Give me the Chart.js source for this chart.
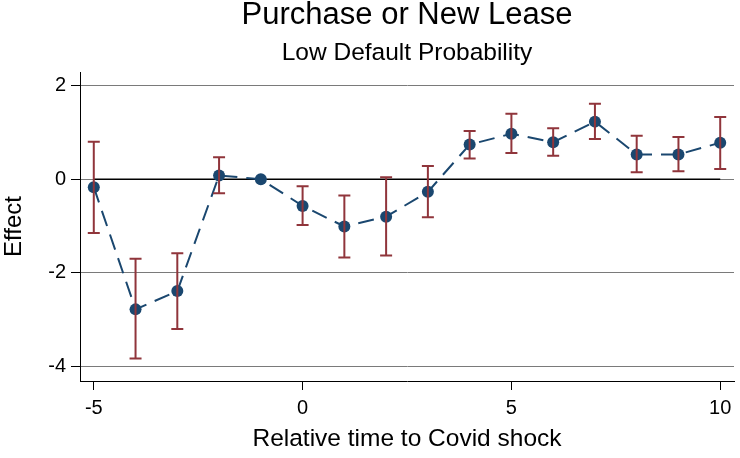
<!DOCTYPE html>
<html>
<head>
<meta charset="utf-8">
<script src="https://cdn.jsdelivr.net/npm/chart.js@4.4.1/dist/chart.umd.min.js"></script>
<style>
  html, body { margin: 0; padding: 0; background: #fff; }
  canvas { display: block; }
</style>
</head>
<body>
<canvas id="c" width="740" height="458"></canvas>
<script>
// ---- Data ----
const relTime  = [-5, -4, -3, -2, -1, 0, 1, 2, 3, 4, 5, 6, 7, 8, 9, 10];
const effect   = [-0.17, -2.78, -2.39, 0.08, 0.00, -0.57, -1.01, -0.80, -0.27, 0.74, 0.97, 0.79, 1.23, 0.53, 0.53, 0.78];
const ciLow    = [-1.15, -3.83, -3.20, -0.30, null, -0.98, -1.67, -1.63, -0.81, 0.44, 0.56, 0.50, 0.86, 0.15, 0.17, 0.22];
const ciHigh   = [0.80, -1.70, -1.58, 0.47, null, -0.15, -0.35, 0.04, 0.28, 1.03, 1.40, 1.09, 1.61, 0.93, 0.90, 1.33];
const xTicks   = [-5, 0, 5, 10];
const yTicks   = [-4, -2, 0, 2];
const refLineX = [-5, 10];
const refLineY = [0, 0];

const titleText    = 'Purchase or New Lease';
const subtitleText = 'Low Default Probability';
const xTitle       = 'Relative time to Covid shock';
const yTitle       = 'Effect';

// ---- Styling ----
const NAVY = '#1a476f';
const MAROON = '#90353b';
const FONT = "'Liberation Sans', Arial, Helvetica, sans-serif";

const pointData = relTime.map((x, i) => ({ x: x, y: effect[i] }));
const refData = refLineX.map((x, i) => ({ x: x, y: refLineY[i] }));

const errorBarPlugin = {
  id: 'errorBars',
  afterDatasetsDraw(c) {
    const ctx = c.ctx;
    const xs = c.scales.x, ys = c.scales.y;
    ctx.save();
    ctx.strokeStyle = MAROON;
    ctx.lineWidth = 2;
    const half = 6;
    relTime.forEach((x, i) => {
      if (ciLow[i] == null || ciHigh[i] == null) return;
      const px = xs.getPixelForValue(x);
      const pLo = ys.getPixelForValue(ciLow[i]);
      const pHi = ys.getPixelForValue(ciHigh[i]);
      ctx.beginPath();
      ctx.moveTo(px, pLo); ctx.lineTo(px, pHi);
      ctx.moveTo(px - half, pLo); ctx.lineTo(px + half, pLo);
      ctx.moveTo(px - half, pHi); ctx.lineTo(px + half, pHi);
      ctx.stroke();
    });
    ctx.restore();
  }
};

new Chart(document.getElementById('c'), {
  type: 'line',
  data: {
    datasets: [
      {
        label: 'Effect',
        data: pointData,
        borderColor: NAVY,
        backgroundColor: NAVY,
        borderWidth: 2,
        borderDash: [16, 9],
        pointRadius: 6,
        pointBackgroundColor: NAVY,
        pointBorderColor: NAVY,
        pointBorderWidth: 0,
        tension: 0,
        order: 1
      },
      {
        label: 'zero',
        data: refData,
        borderColor: '#000',
        borderWidth: 1.6,
        pointRadius: 0,
        tension: 0,
        order: 2
      }
    ]
  },
  options: {
    responsive: false,
    animation: false,
    devicePixelRatio: 1,
    layout: { padding: { top: 0, right: 4, bottom: 0, left: 0 } },
    plugins: {
      legend: { display: false },
      tooltip: { enabled: false },
      title: {
        display: true,
        fullSize: false,
        text: titleText,
        color: '#000',
        font: { family: FONT, size: 31, weight: 'normal', lineHeight: 0.9 },
        padding: { top: 2, bottom: 0 }
      },
      subtitle: {
        display: true,
        fullSize: false,
        text: subtitleText,
        color: '#000',
        font: { family: FONT, size: 24.5, weight: 'normal', lineHeight: 1 },
        padding: { top: 11.1, bottom: 6.5 }
      }
    },
    scales: {
      x: {
        type: 'linear',
        min: -5.33,
        max: 10.33,
        afterBuildTicks(s) { s.ticks = xTicks.map(v => ({ value: v })); },
        afterFit(s) { s.height = 77; },
        ticks: {
          color: '#000',
          font: { family: FONT, size: 20 },
          padding: 6.5,
          maxRotation: 0,
          callback: v => String(v)
        },
        grid: {
          drawOnChartArea: false,
          drawTicks: true,
          tickLength: 9,
          tickColor: '#000',
          tickWidth: 1
        },
        border: { display: true, color: '#000', width: 1 },
        title: {
          display: true,
          text: xTitle,
          color: '#000',
          font: { family: FONT, size: 24.5, lineHeight: 1.2 },
          padding: { top: 0, bottom: 4.3 }
        }
      },
      y: {
        type: 'linear',
        min: -4.31,
        max: 2.29,
        afterBuildTicks(s) { s.ticks = yTicks.map(v => ({ value: v })); },
        afterFit(s) { s.width = 80; },
        ticks: {
          color: '#000',
          font: { family: FONT, size: 20 },
          padding: 5,
          callback: v => String(v)
        },
        grid: {
          color: '#7a7a7a',
          lineWidth: 1,
          drawTicks: true,
          tickLength: 9,
          tickColor: '#000',
          tickWidth: 1
        },
        border: { display: true, color: '#000', width: 1 },
        title: {
          display: true,
          text: yTitle,
          color: '#000',
          font: { family: FONT, size: 24, lineHeight: 1.2 },
          padding: { top: 0, bottom: 0 }
        }
      }
    }
  },
  plugins: [errorBarPlugin]
});
</script>
</body>
</html>
